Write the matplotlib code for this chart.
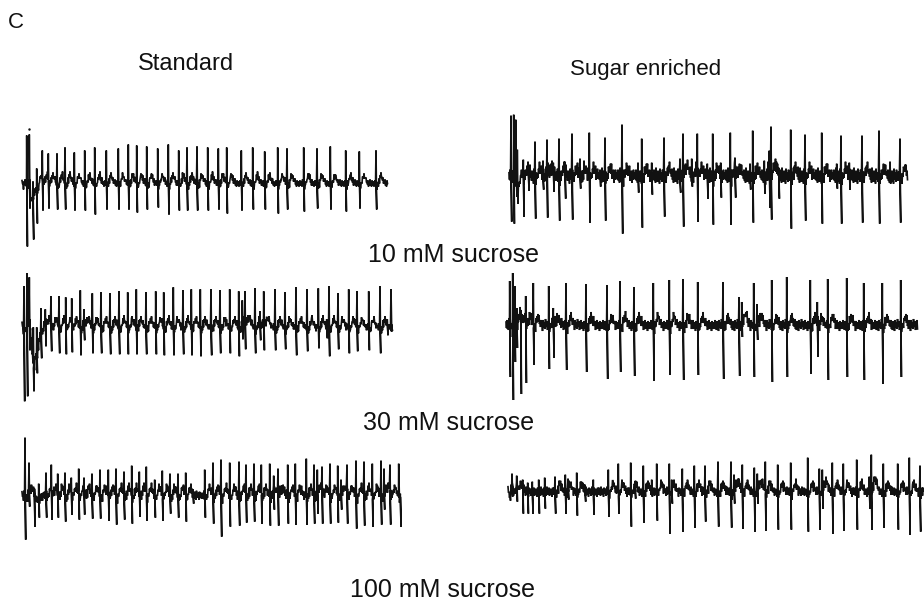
import numpy as np
import matplotlib
matplotlib.use("Agg")
import matplotlib.pyplot as plt

plt.rcParams['font.family'] = ['Liberation Sans', 'DejaVu Sans']

# 每条记录: 时间, 向上幅度, 向下幅度
std10_t = [4.7,7.3,11,14.7,20.3,26.3,35,43,52.3,62.7,72.7,84.3,96.3,106.3,114.7,124.7,135.7,146.3,156.7,165,175,185.7,196.3,204.7,219.3,230.7,242.7,255.7,265,281.7,295,308.3,323.7,337.3,354]
std10_up = [48,49,2,15,33,30,30,36,31,33,36,33,35,39,38,37,35,39,33,36,37,36,35,36,33,36,32,36,35,36,35,37,33,32,33]
std10_down = [63,25,56,40,27,25,26,26,27,27,31,26,26,26,29,26,24,31,27,27,27,27,26,30,27,26,26,30,26,28,25,26,28,25,26]
std10_settle = [2,-3,0,0,0,0,0,0,-20,-23,-25,-24,-18,-13,-10,-6,-3,-1]
std10_wiggle = [1,-2,3,-3,2,-1,4,-2,1,-3,3,0,-2,2,-3,1,3,-2,0,2,-3,4,-1,-2,2,-3,1,0,3,-2]

sugar10_t = [2,4.7,6.7,8.3,14.3,19.3,26,34,38,44.3,50,56,63,71,80.3,91,96,113,129,132.7,142.7,155,171,174,182.7,188.3,198.3,203.7,211.7,221.3,226,241,243.7,255.3,260.3,262,269.7,281.7,296,312.7,327.7,332,340.3,353,370,381,391]
sugar10_up = [60,61,56,26,16,10,34,15,36,13,37,14,42,17,43,6,38,51,13,37,13,38,17,42,17,42,12,42,13,43,18,12,45,15,25,49,8,46,41,43,12,40,13,40,45,14,37]
sugar10_down = [46,48,11,28,41,15,43,14,42,16,45,23,44,13,47,11,45,58,17,52,19,41,17,51,11,46,23,49,22,49,22,14,47,18,32,44,23,53,45,48,13,48,14,47,48,8,47]
sugar10_settle = [0,0,0,0,0,0,-8,-15,-22,-24,-20,-18,-14,-10,-6,-3]
sugar10_wiggle = [3,-4,6,-5,2,-7,8,-3,1,-6,5,-2,4,-8,7,-1,-4,3,-6,6,-2,2,-5,4,-3,7,-6,1,-2,5,-7,3,-4,6,-1,-3]

std30_t = [2,5,7.3,11.3,14.7,19,23.3,29,37,43.7,49.7,58.3,62,70.3,79,88,97,105.7,114.3,124,133.7,141.7,151.3,161,169.3,178.3,189,198,207.7,216.7,220.3,223,233,238,241.7,253,263,274,285,296.3,304.7,307,316,326.7,335,346.7,358,365.3,369]
std30_up = [41,54,50,0,0,19,18,31,31,30,29,37,18,34,35,34,36,35,38,35,36,35,40,37,38,38,38,37,38,36,27,36,39,16,36,38,35,40,38,39,8,41,34,38,36,36,41,8,38]
std30_down = [74,69,23,64,46,31,19,24,26,27,25,28,13,26,26,27,27,27,27,27,27,28,28,27,28,29,28,26,26,29,12,22,26,13,23,23,22,28,24,21,11,29,22,26,24,23,26,8,3]
std30_settle = [3,-4,0,0,0,0,0,0,-8,-22,-38,-50,-52,-36,-32,-30,-20,-12,-8,-4,-2]
std30_wiggle = [2,-2,4,-3,1,-2,3,-1,-3,2,4,-2,0,-3,3,1,-2,2,-4,3,-1,0,2,-3,4,-2,1,-1,3,-3]

sugar30_t = [3.7,6.7,8.7,10.7,14.7,19.7,27.3,42.7,47.3,60,80,101,114,128,147.3,163.3,177,191.7,217,233,235.7,247.7,251,265.7,280.7,304.3,311.3,321.7,340.7,357.7,376.3,394.7]
sugar30_up = [44,52,39,17,15,29,42,39,17,42,41,40,44,38,42,45,46,43,43,28,23,42,21,45,48,45,23,46,47,42,42,45]
sugar30_down = [52,75,37,23,69,58,40,44,33,45,47,54,47,51,56,50,55,50,54,51,12,52,15,57,52,49,32,55,52,55,59,52]
sugar30_settle = [0,0,0,3,-3,0,0,0,-5,-12,-15,-10,-6,-3]
sugar30_wiggle = [3,-3,5,-4,1,-5,4,-2,2,-6,5,-1,-3,3,-4,6,-2,0,4,-5,2,-3,5,-4,1,-2,3,-6,4,-1,2,-4]

std100_t = [3,7,12.3,16.7,24,29.3,35.7,43,49.3,56.7,62,70,78,86.3,94,102,109.7,117.3,124.3,132.7,140.3,148,156,163.7,171,182.7,191,199,207.7,217,224,232,239.3,247.7,251.7,256,265.7,273.3,284.3,292,295.3,300,308,315.7,319,325,334,342,350.3,359,362,368,376.7,378.3]
std100_up = [58,33,2,12,23,31,22,23,18,27,18,22,26,26,27,24,30,24,29,16,25,22,22,23,6,26,33,36,33,34,31,32,31,32,20,27,31,32,37,31,26,29,32,30,16,31,35,34,32,35,27,31,32,2]
std100_down = [44,11,31,22,22,24,22,26,19,24,19,23,23,25,29,24,28,21,25,22,25,18,22,26,8,22,28,41,31,30,27,26,28,30,14,30,28,29,29,28,18,28,28,27,14,28,33,30,31,29,14,29,2,31]
std100_settle = [2,-3,0,0,0,0,0,0,1,2,0,-2,-5,-7,-6,-5,-4,-4,-3,-2]
std100_wiggle = [2,-3,3,-2,5,-4,1,-1,4,-3,2,-5,3,0,-2,4,-3,1,-4,5,-2,2,-1,3,-4,4,-2,0,3,-3]

sugar100_t = [4,8.7,14.7,19.7,24.3,30.7,36.7,47,57.3,60,68.7,77,85.3,100.3,110.3,122.7,127,135.3,143.7,148.7,161.3,163.7,174.3,186.3,197,210,223,226,234.3,246.3,249.3,257.3,269.7,282.7,299.7,311.3,314.3,324.3,335.3,348.7,361.3,363.3,375.3,389.7,401.3,412]
sugar100_up = [18,16,12,9,10,12,14,15,17,13,19,7,12,22,28,29,10,26,12,28,28,12,23,26,26,30,30,17,27,24,18,30,27,29,34,23,22,29,28,32,15,37,28,28,34,26]
sugar100_down = [5,10,22,22,22,22,17,22,22,8,24,10,23,25,22,35,7,31,5,29,42,12,40,36,30,35,36,12,37,40,12,39,38,38,40,38,17,42,39,38,17,38,36,38,43,40]
sugar100_settle = [2,-4,-5,2,8,4,0,-3]
sugar100_wiggle = [3,-3,4,-2,1,-4,5,-3,2,-1,3,-5,4,0,-2,3,-4,2,5,-3,1,-2,4,-4,0,3,-3,2,-5,4]

# 尖峰之后的小回弹
after_spike = [-3,-1,3,7,8,5,3,1]

# 第一条记录上方的小点
dot_t = [7]
dot_y = [55]

titles = ["Standard", "Sugar enriched"]
labels = ["10 mM sucrose", "30 mM sucrose", "100 mM sucrose"]

W, H = 924, 602
fig = plt.figure(figsize=(W/100, H/100), dpi=100, facecolor='white')


def make_trace(t, up, down, settle, wiggle, length):
    # 半个像素一个点，基线才够密
    grid = np.arange(0, length, 0.5)
    y = np.array([wiggle[i % len(wiggle)] for i in range(len(grid))], dtype=float)
    for i, s in enumerate(settle):
        y[i*2:i*2+2] += s
    for ti, ui in zip(t, up):
        # 只有较大的尖峰才有回弹
        if ui < 15:
            continue
        start = int(ti*2) + 2
        for j, b in enumerate(after_spike):
            y[start + j*2:start + j*2 + 2] += b
    xs = list(grid)
    ys = list(y)
    for ti, ui, di in zip(t, up, down):
        k = np.searchsorted(xs, ti)
        xs[k:k] = [ti, ti + 0.7]
        ys[k:k] = [ui, -di]
    return xs, ys


def draw(x0, base, length, t, up, down, settle, wiggle):
    ax = fig.add_axes([x0/W, 1-(base+80)/H, length/W, 160/H])
    ax.set_xlim(0, length)
    ax.set_ylim(-80, 80)
    ax.axis('off')
    xs, ys = make_trace(t, up, down, settle, wiggle, length)
    ax.plot(xs, ys, color='#111111', lw=1.2, solid_joinstyle='miter', clip_on=False)
    return ax


ax = draw(22, 183.5, 366, std10_t, std10_up, std10_down, std10_settle, std10_wiggle)
ax.plot(dot_t, dot_y, '.', color='#111111', ms=1.5)
draw(509, 175.7, 399, sugar10_t, sugar10_up, sugar10_down, sugar10_settle, sugar10_wiggle)
draw(22, 327.3, 371, std30_t, std30_up, std30_down, std30_settle, std30_wiggle)
draw(506, 325, 412, sugar30_t, sugar30_up, sugar30_down, sugar30_settle, sugar30_wiggle)
draw(22, 495.7, 379, std100_t, std100_up, std100_down, std100_settle, std100_wiggle)
draw(508, 491.7, 416, sugar100_t, sugar100_up, sugar100_down, sugar100_settle, sugar100_wiggle)

fig.text(8/W, 1-23/H, "C", fontsize=16, va='center', ha='left', color='#111111')
fig.text(186/W, 1-64/H, titles[0], fontsize=17, va='center', ha='center', color='#111111')
fig.text(646/W, 1-70/H, titles[1], fontsize=16, va='center', ha='center', color='#111111')
fig.text(454/W, 1-255/H, labels[0], fontsize=18, va='center', ha='center', color='#111111')
fig.text(449/W, 1-423/H, labels[1], fontsize=18, va='center', ha='center', color='#111111')
fig.text(443/W, 1-590/H, labels[2], fontsize=18, va='center', ha='center', color='#111111')

fig.savefig('out.png', dpi=100)
plt.close()
